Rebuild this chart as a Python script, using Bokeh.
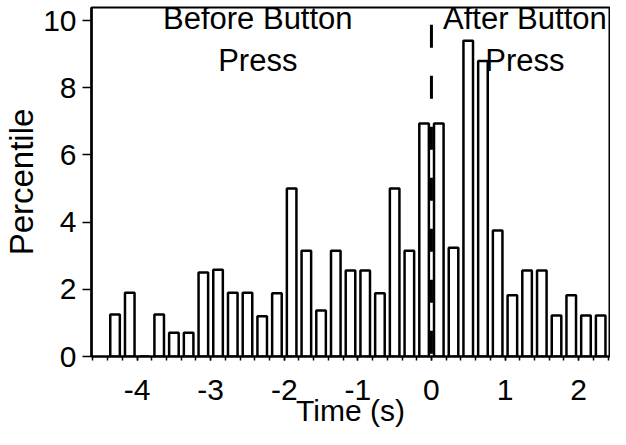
import math
from bokeh.plotting import figure
from bokeh.models import Label, Range1d, FixedTicker, ColumnDataSource
from bokeh.embed import file_html
from bokeh.resources import INLINE

# bin centres (s) and percentile values
bin_centers = [-4.3, -4.1, -3.9, -3.7, -3.5, -3.3, -3.1, -2.9, -2.7, -2.5,
               -2.3, -2.1, -1.9, -1.7, -1.5, -1.3, -1.1, -0.9, -0.7, -0.5,
               -0.3, -0.1, 0.1, 0.3, 0.5, 0.7, 0.9, 1.1, 1.3, 1.5,
               1.7, 1.9, 2.1, 2.3]
percentile = [1.25, 1.9, 0.0, 1.25, 0.71, 0.71, 2.5, 2.58, 1.9, 1.9,
              1.2, 1.88, 5.0, 3.15, 1.37, 3.15, 2.56, 2.56, 1.88, 5.0,
              3.15, 6.94, 6.94, 3.24, 9.4, 8.8, 3.75, 1.82, 2.56, 2.56,
              1.22, 1.82, 1.22, 1.22]
x_ticks = [-4, -3, -2, -1, 0, 1, 2]
x_minor = [-4.6, -4.4, -4.2, -4.0, -3.8, -3.6, -3.4, -3.2, -3.0, -2.8,
           -2.6, -2.4, -2.2, -2.0, -1.8, -1.6, -1.4, -1.2, -1.0, -0.8,
           -0.6, -0.4, -0.2, 0.0, 0.2, 0.4, 0.6, 0.8, 1.0, 1.2,
           1.4, 1.6, 1.8, 2.0, 2.2, 2.4]
y_ticks = [0, 2, 4, 6, 8, 10]

FONT = "Liberation Sans"

p = figure(width=610, height=429, output_backend="svg", toolbar_location=None,
           x_range=Range1d(-4.62, 2.42), y_range=Range1d(0, 10.39),
           min_border_left=91, min_border_right=1, min_border_top=7,
           min_border_bottom=73)
p.background_fill_color = "white"
p.border_fill_color = "white"
p.outline_line_color = "black"
p.outline_line_width = 2
p.xgrid.visible = False
p.ygrid.visible = False

src = ColumnDataSource(dict(x=bin_centers, top=percentile))
p.vbar(x="x", top="top", bottom=0, width=0.13, source=src,
       fill_color="white", line_color="black", line_width=2.5)

# button press marker
p.segment(x0=0, y0=9.88, x1=0, y1=0, line_color="black", line_width=3,
          line_dash="23 28")

# x axis
xa = p.xaxis[0]
xa.ticker = FixedTicker(ticks=x_ticks, minor_ticks=x_minor)
xa.major_label_overrides = {t: str(t) for t in x_ticks}
xa.axis_label = "Time (s)"
xa.axis_label_text_font = FONT
xa.axis_label_text_font_size = "30px"
xa.axis_label_text_font_style = "normal"
xa.axis_label_text_color = "black"
xa.axis_label_standoff = -9
xa.major_label_text_font = FONT
xa.major_label_text_font_size = "30px"
xa.major_label_text_color = "black"
xa.major_label_standoff = 19
xa.major_tick_out = 4
xa.major_tick_in = 0
xa.minor_tick_out = 4
xa.minor_tick_in = 0
xa.axis_line_width = 2
xa.major_tick_line_width = 1.5
xa.minor_tick_line_width = 1.5

# y axis
ya = p.yaxis[0]
ya.ticker = FixedTicker(ticks=y_ticks)
ya.axis_label = "Percentile"
ya.axis_label_text_font = FONT
ya.axis_label_text_font_size = "33px"
ya.axis_label_text_font_style = "normal"
ya.axis_label_text_color = "black"
ya.axis_label_standoff = 0
ya.major_label_text_font = FONT
ya.major_label_text_font_size = "30px"
ya.major_label_text_color = "black"
ya.major_label_standoff = 6
ya.major_tick_out = 9
ya.major_tick_in = 0
ya.minor_tick_out = 0
ya.minor_tick_in = 0
ya.axis_line_width = 2.5
ya.major_tick_line_width = 1.5

# annotations
p.add_layout(Label(x=-2.36, y=9.43, text="Before Button\nPress",
                   text_align="center", text_baseline="alphabetic",
                   text_font=FONT, text_font_size="31px", text_color="black",
                   text_line_height=1.2))
p.add_layout(Label(x=1.27, y=9.43, text="After Button\nPress",
                   text_align="center", text_baseline="alphabetic",
                   text_font=FONT, text_font_size="31px", text_color="black",
                   text_line_height=1.2))

open("out.html", "w").write(file_html(p, INLINE))
